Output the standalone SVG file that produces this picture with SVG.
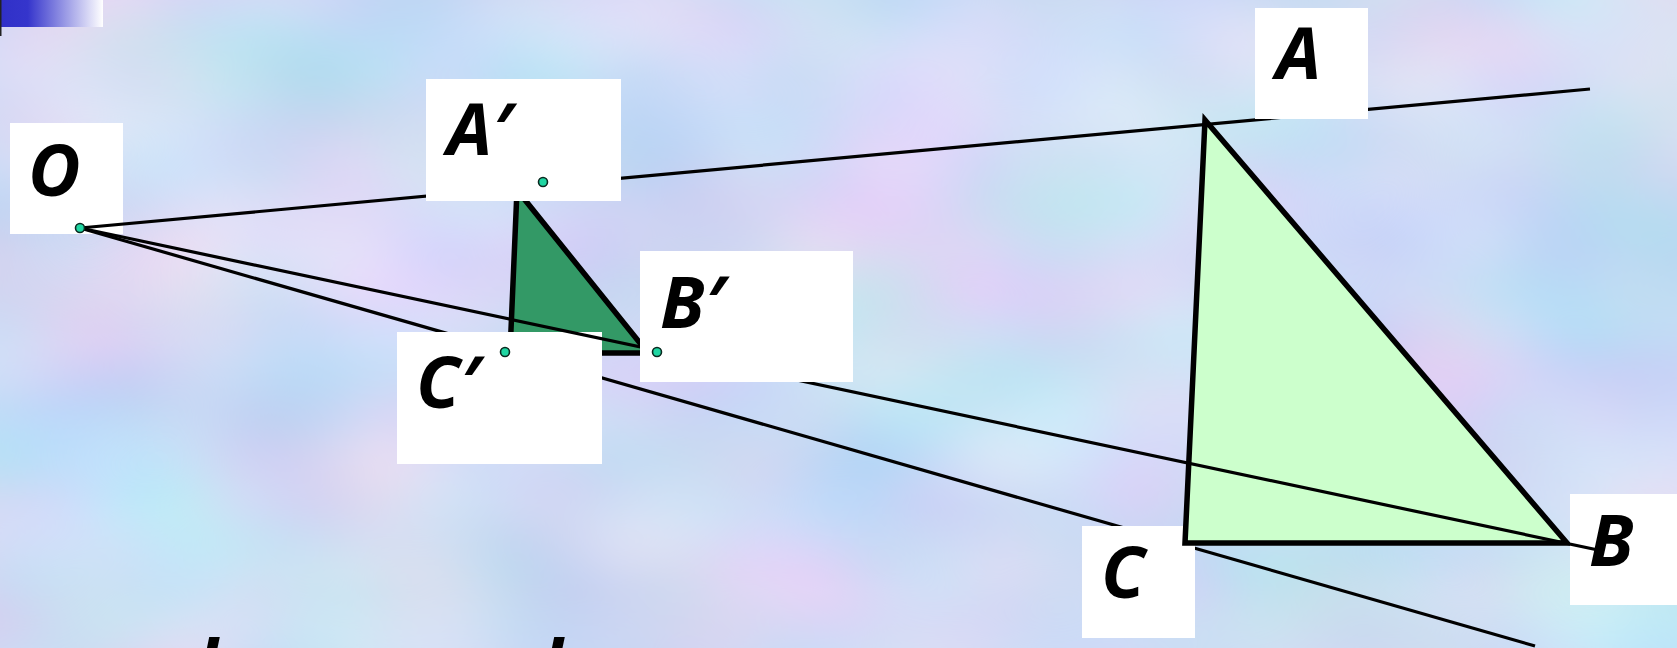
<svg xmlns="http://www.w3.org/2000/svg" width="1677" height="648" viewBox="0 0 1677 648">
  <defs>
    <filter id="mottle" x="0" y="0" width="100%" height="100%" color-interpolation-filters="sRGB">
      <feTurbulence type="fractalNoise" baseFrequency="0.004 0.006" numOctaves="2" seed="11" result="n"/>
      <feColorMatrix in="n" type="matrix" values="0.3 0 0 0 0.66  0 0.18 0 0 0.77  0 0 0.08 0 0.92  0 0 0 0 1"/>
    </filter>
    <linearGradient id="bar" x1="0" y1="0" x2="1" y2="0">
      <stop offset="0" stop-color="#3030c8"/>
      <stop offset="0.27" stop-color="#3535cc"/>
      <stop offset="1" stop-color="#ffffff"/>
    </linearGradient>
  </defs>
  <style>
    .box { fill: #ffffff; }
    .ln { stroke: #000; stroke-width: 3.2; fill: none; stroke-linecap: butt; }
    .tri { stroke: #000; stroke-width: 5.5; stroke-linejoin: miter; }
    .lbl { font-family: "Open Sans", "DejaVu Sans", sans-serif; font-weight: bold; font-style: italic; font-size: 72px; fill: #000; }
    .dot { fill: #1fd6a2; stroke: #0a2a20; stroke-width: 1.6; }
  </style>

  <rect id="background" x="0" y="0" width="1677" height="648" fill="#c9d9f5" filter="url(#mottle)"/>
  <g id="header-bar">
    <rect x="0" y="0" width="103" height="27" fill="url(#bar)"/>
    <rect x="0" y="0" width="1.5" height="36" fill="#222"/>
  </g>

  <g id="node-O-box"><rect class="box" x="10" y="123" width="113" height="111"/></g>

  <g id="node-triangle-small">
    <polygon class="tri" points="517,190 648,353 510,353" fill="#339966"/>
  </g>

  <g id="connectors-1">
    <line class="ln" x1="80" y1="228" x2="1590" y2="89"/>
    <line class="ln" x1="80" y1="228" x2="1535" y2="646"/>
  </g>

  <g id="node-A-prime-box"><rect class="box" x="426" y="79" width="195" height="122"/></g>
  <g id="node-C-prime-box"><rect class="box" x="397" y="332" width="205" height="132"/></g>
  <g id="node-A-box"><rect class="box" x="1255" y="8" width="113" height="111"/></g>
  <g id="node-C-box"><rect class="box" x="1082" y="526" width="113" height="112"/></g>

  <g id="node-triangle-big">
    <polygon class="tri" points="1205,120 1567,543 1185,543" fill="#ccffcc"/>
  </g>

  <g id="node-B-box"><rect class="box" x="1570" y="494" width="107" height="111"/></g>

  <g id="connectors-2">
    <line class="ln" x1="80" y1="228" x2="1598" y2="550"/>
  </g>

  <g id="node-B-prime-box"><rect class="box" x="640" y="251" width="213" height="131"/></g>

  <g id="labels">
    <text class="lbl" x="28" y="196">O</text>
    <text class="lbl" x="447" y="155">A′</text>
    <text class="lbl" x="660" y="328">B′</text>
    <text class="lbl" x="416" y="408">C′</text>
    <text class="lbl" x="1276" y="79">A</text>
    <text class="lbl" x="1589" y="566">B</text>
    <text class="lbl" x="1101" y="598">C</text>
    <text class="lbl" x="175" y="692">d</text>
    <text class="lbl" x="520" y="692">d</text>
  </g>

  <g id="dots">
    <circle class="dot" cx="80" cy="228" r="4.5"/>
    <circle class="dot" cx="543" cy="182" r="4.5"/>
    <circle class="dot" cx="505" cy="352" r="4.5"/>
    <circle class="dot" cx="657" cy="352" r="4.5"/>
  </g>
</svg>
